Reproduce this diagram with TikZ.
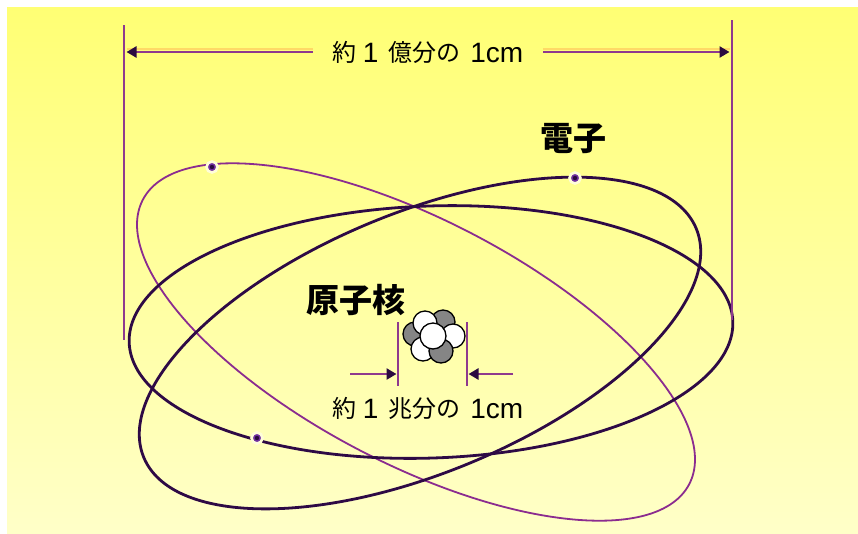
\documentclass[tikz,border=0pt]{standalone}
\usepackage{fontspec}
\newfontfamily\jp{Noto Sans CJK JP}
\newfontfamily\lat{Liberation Sans}
\usetikzlibrary{arrows.meta,calc}

\definecolor{bgtop}{HTML}{FFFF74}
\definecolor{bgbot}{HTML}{FFFFC8}
\definecolor{dimc}{HTML}{8E3A8E}
\definecolor{shadowc}{HTML}{FFD966}
\definecolor{tipc}{HTML}{2A0A40}
\definecolor{orbthin}{HTML}{8B2C8F}
\definecolor{orbthick}{HTML}{2E0A45}
\definecolor{elecc}{HTML}{7030A0}
\definecolor{nucgray}{HTML}{858585}

% Latin runs inside the size labels
\newcommand{\latrun}[1]{{\lat\fontsize{28}{30}\selectfont\raisebox{-1.5pt}{#1}}}

\tikzset{
  dimline/.style={draw=dimc, line width=2.8pt},
  dimarrow/.style={draw=dimc, line width=2.8pt,
    -{Triangle[length=10pt,width=11pt,color=tipc,fill=tipc]}},
  dimshadow/.style={preaction={draw=shadowc, line width=2pt, -,
    transform canvas={yshift=3pt}}},
  orbitthin/.style={draw=orbthin, line width=1.8pt},
  orbitthick/.style={draw=orbthick, line width=2.8pt},
  electron/.style={circle, inner sep=0pt, minimum size=11pt,
    fill=elecc, draw=white!85!yellow, line width=2.6pt,
    path picture={\fill[tipc] (path picture bounding box.center) circle (2.2);}},
  dimtext/.style={font=\jp\fontsize{24}{28}\selectfont, text=black,
    inner sep=0pt, inner xsep=20pt},
  boldtext/.style={font=\jp\bfseries\fontsize{33}{36}\selectfont, text=black,
    inner sep=0pt},
  nucwhite/.style={fill=white, draw=black, line width=1.3pt},
  nucgrey/.style={fill=nucgray, draw=black, line width=1.3pt},
}

\begin{document}
\begin{tikzpicture}[x=1pt,y=-1pt]
  \useasboundingbox (0,0) rectangle (858,533);
  % paper and gradient backdrop
  \fill[white] (0,0) rectangle (858,533);
  \shade[top color=bgtop, bottom color=bgbot] (7,7) rectangle (858,533);

  % electron orbits
  \draw[orbitthin] (416,342) ellipse [x radius=308, y radius=122, rotate=-27.5];
  \draw[orbitthick] (431,332) ellipse [x radius=302, y radius=126, rotate=2];
  \draw[orbitthick] (420,343) ellipse [x radius=299, y radius=130, rotate=22.5];

  % electrons
  \node[electron] (e1) at (212,167) {};
  \node[electron] (e2) at (575,178) {};
  \node[electron] (e3) at (257,438) {};

  % atom size dimension
  \coordinate (Ltop) at (124,25);
  \coordinate (Lbot) at (124,340);
  \coordinate (Rtop) at (732,20);
  \coordinate (Rbot) at (732,320);
  \draw[dimline] (Ltop) -- (Lbot);
  \draw[dimline] (Rtop) -- (Rbot);
  \node[dimtext] (atomsize) at (428,52)
    {約\hspace{6pt}\latrun{1}\hspace{10pt}億分の\hspace{10pt}\latrun{1cm}};
  \draw[dimarrow, dimshadow, shorten >=2.5pt] (atomsize.west) -- (atomsize.west -| Ltop);
  \draw[dimarrow, dimshadow, shorten >=2.5pt] (atomsize.east) -- (atomsize.east -| Rtop);

  % labels
  \node[boldtext] (electronlbl) at (573,139) {電子};
  \node[boldtext] (nucleuslbl) at (356,300) {原子核};

  % nucleus
  \coordinate (nc) at (433,336);
  \filldraw[nucgrey]  ($(nc)+(10,-14)$) circle (12);
  \filldraw[nucgrey]  ($(nc)+(-18,-2)$) circle (12);
  \filldraw[nucwhite] ($(nc)+(20,0)$) circle (12);
  \filldraw[nucwhite] ($(nc)+(-10,13)$) circle (12);
  \filldraw[nucgrey]  ($(nc)+(8,15)$) circle (12);
  \filldraw[nucwhite] ($(nc)+(-8,-13)$) circle (12);
  \filldraw[nucwhite] (nc) circle (13);

  % nucleus size dimension
  \coordinate (NLtop) at (398,322);
  \coordinate (NLbot) at (398,386);
  \coordinate (NRtop) at (467,322);
  \coordinate (NRbot) at (467,386);
  \draw[dimline] (NLtop) -- (NLbot);
  \draw[dimline] (NRtop) -- (NRbot);
  \coordinate (NLfree) at (350,374);
  \coordinate (NRfree) at (513,374);
  \draw[dimarrow, shorten >=1.5pt] (NLfree) -- (NLfree -| NLtop);
  \draw[dimarrow, shorten >=1.5pt] (NRfree) -- (NRfree -| NRtop);
  \node[dimtext] (nucsize) at (428,408)
    {約\hspace{6pt}\latrun{1}\hspace{10pt}兆分の\hspace{10pt}\latrun{1cm}};
\end{tikzpicture}
\end{document}
